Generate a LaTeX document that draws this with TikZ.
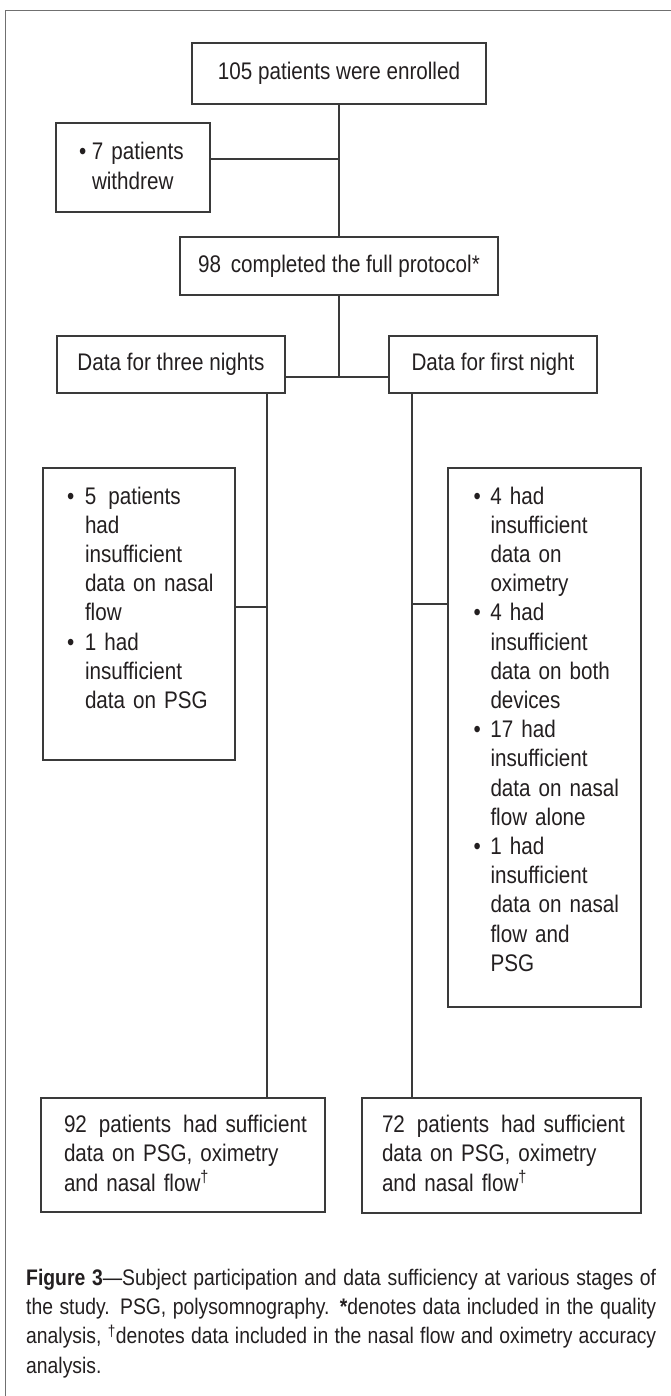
\documentclass[tikz,border=0pt]{standalone}
\usepackage{fontspec}
\setmainfont{Liberation Sans}[FakeStretch=0.86]
\usepackage{tikz}
\definecolor{ink}{HTML}{231F20}
\definecolor{rulegray}{HTML}{3A3A3A}
\definecolor{framegray}{HTML}{707070}
\newcommand{\boxfont}{\fontsize{24}{29.2}\selectfont}
\newcommand{\capfont}{\fontsize{22.5}{29.4}\selectfont}
\newcommand{\itm}[1][18pt]{\makebox[#1][l]{\textbullet}}
\newcommand{\ind}[1][18pt]{\hspace*{#1}}
\newcommand{\gap}{\hspace{4pt} }
\newcommand{\rows}[1]{\begin{tabular}[t]{@{}l@{}}#1\end{tabular}}
\tikzset{
    plainbox/.style={draw=rulegray, line width=1.5pt, text=ink, inner sep=0pt, font=\boxfont},
    textbox/.style={plainbox, align=left, inner xsep=24pt, text width=#1},
    wire/.style={draw=rulegray, line width=1.2pt},
}

\begin{document}
\begin{tikzpicture}
    [x=1pt, y=-1pt]
    \useasboundingbox (0,0) rectangle (670,1396);
    \draw[framegray, line width=1pt] (5,1410) -- (5,11) -- (680,11);
    \node[plainbox, minimum width=294pt, minimum height=61pt] (enrolled) at (339,73.5) {105 patients were enrolled};
    \node[textbox=108pt, inner xsep=23pt, text height=37pt, text depth=52pt] (withdrew) at (133,167.5)
        {\rows{\itm[13pt]7 patients\\ \ind[13pt]withdrew}};
    \node[plainbox, minimum width=318pt, minimum height=58pt] (completed) at (339,266) {98\gap completed the full protocol*};
    \node[plainbox, minimum width=228pt, minimum height=57pt] (three) at (171,364.5) {Data for three nights};
    \node[plainbox, minimum width=208pt, minimum height=57pt] (first) at (493,364.5) {Data for first night};
    \node[textbox=144pt, text height=36pt, text depth=256pt] (lbul) at (139,614)
        {\rows{\itm 5\gap patients\\ \ind had\\ \ind insufficient\\ \ind data on nasal\\ \ind flow\\
         \itm 1 had\\ \ind insufficient\\ \ind data on PSG}};
    \node[textbox=142pt, inner xsep=25.5pt, text height=36pt, text depth=503pt] (rbul) at (544.5,737.5)
        {\rows{\itm[17pt]4 had\\ \ind[17pt]insufficient\\ \ind[17pt]data on\\ \ind[17pt]oximetry\\
         \itm[17pt]4 had\\ \ind[17pt]insufficient\\ \ind[17pt]data on both\\ \ind[17pt]devices\\
         \itm[17pt]17 had\\ \ind[17pt]insufficient\\ \ind[17pt]data on nasal\\ \ind[17pt]flow alone\\
         \itm[17pt]1 had\\ \ind[17pt]insufficient\\ \ind[17pt]data on nasal\\ \ind[17pt]flow and\\ \ind[17pt]PSG}};
    \node[textbox=238pt, inner xsep=23pt, text height=34pt, text depth=80pt] (lend) at (183,1155)
        {\rows{92\gap patients\gap had sufficient\\ data on PSG, oximetry\\ and nasal flow\textsuperscript{\textdagger}}};
    \node[textbox=239pt, inner xsep=20pt, text height=34pt, text depth=81pt] (rend) at (501.5,1155.5)
        {\rows{72\gap patients\gap had sufficient\\ data on PSG, oximetry\\ and nasal flow\textsuperscript{\textdagger}}};
    \node[text=ink, text width=630pt, align=justify, inner sep=0pt, anchor=base west, font=\capfont] (caption) at (26,1285)
        {\textbf{Figure 3}—Subject participation and data sufficiency at various stages of\linebreak
         the study. PSG, polysomnography. \textbf{*}denotes data included in the quality\linebreak
         analysis, \textsuperscript{\textdagger}denotes data included in the nasal flow and oximetry accuracy\linebreak
         analysis.};
    \coordinate (wtap) at ([yshift=8.5pt]withdrew.east);
    \coordinate (fork) at (339,377);
    \coordinate (splitL) at ([xshift=96pt]three.south);
    \coordinate (splitR) at ([xshift=-81pt]first.south);
    \coordinate (ltap) at ([yshift=7pt]lbul.east);
    \coordinate (rtap) at ([yshift=133.5pt]rbul.west);
    \draw[wire] (enrolled) -- (completed);
    \draw[wire] (wtap) -- (wtap -| enrolled.south);
    \draw[wire] (completed) -- (fork);
    \draw[wire] ([yshift=-12.5pt]three.east) -- ([yshift=-12.5pt]first.west);
    \draw[wire] (splitL) -- (splitL |- lend.north);
    \draw[wire] (splitR) -- (splitR |- rend.north);
    \draw[wire] (ltap) -- (ltap -| splitL);
    \draw[wire] (rtap) -- (rtap -| splitR);
\end{tikzpicture}
\end{document}
